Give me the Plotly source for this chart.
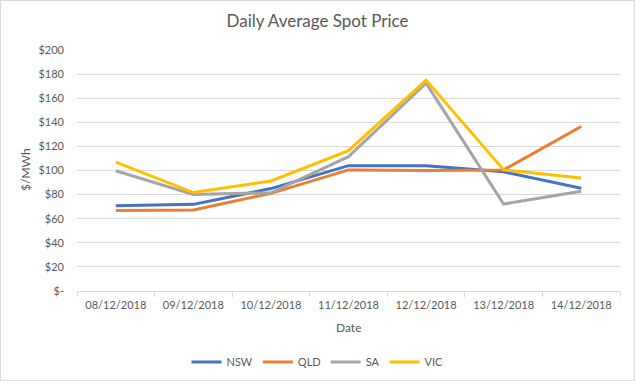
import plotly.graph_objects as go

dates = ["08/12/2018", "09/12/2018", "10/12/2018", "11/12/2018",
         "12/12/2018", "13/12/2018", "14/12/2018"]
nsw = [70.8, 71.9, 85.0, 104.0, 104.0, 98.9, 85.3]
qld = [66.8, 67.3, 81.0, 100.5, 100.0, 100.5, 136.5]
sa = [99.8, 80.1, 81.5, 111.5, 172.5, 72.2, 82.8]
vic = [107.0, 81.7, 91.3, 116.5, 175.0, 100.5, 93.8]

series_names = ["NSW", "QLD", "SA", "VIC"]
series_values = [nsw, qld, sa, vic]
series_colors = ["#4472C4", "#ED7D31", "#A5A5A5", "#FFC000"]

y_tickvals = [0, 20, 40, 60, 80, 100, 120, 140, 160, 180, 200]
y_ticktext = ["$-", "$20", "$40", "$60", "$80", "$100", "$120", "$140",
              "$160", "$180", "$200"]

W, H = 635, 381
ml, mr, mt, mb = 77, 15, 50, 90
FONT = "Lato"
GREY = "#595959"

fig = go.Figure()
for name, vals, col in zip(series_names, series_values, series_colors):
    fig.add_trace(go.Scatter(x=dates, y=vals, name=name, mode="lines",
                             line=dict(color=col, width=3)))

pw = W - ml - mr
ph = H - mt - mb

fig.update_layout(
    width=W, height=H,
    margin=dict(l=ml, r=mr, t=mt, b=mb, autoexpand=False),
    paper_bgcolor="white", plot_bgcolor="white",
    font=dict(family=FONT, color=GREY, size=11),
    title=dict(text="Daily Average Spot Price", x=0.5, xanchor="center",
               xref="container", yref="container",
               y=1 - 21 / H, yanchor="middle",
               font=dict(family=FONT, size=17, color=GREY)),
    showlegend=True,
    legend=dict(orientation="h", xref="container", yref="container",
                x=0.5, xanchor="center",
                y=1 - 362 / H, yanchor="middle",
                font=dict(family=FONT, size=11, color=GREY),
                itemwidth=30),
    xaxis=dict(type="category", range=[-0.5, len(dates) - 0.5],
               showgrid=False, showline=True,
               linecolor="#D9D9D9", linewidth=1, automargin=False,
               ticks="outside", tickson="boundaries", ticklen=5,
               tickcolor="#D9D9D9", ticklabelstandoff=4,
               tickfont=dict(size=11, color=GREY),
               fixedrange=True),
    yaxis=dict(range=[0, 200], tickvals=y_tickvals, ticktext=y_ticktext,
               showgrid=True, gridcolor="#D9D9D9", gridwidth=1,
               zeroline=False, showline=False, ticks="", automargin=False,
               ticklabelstandoff=12,
               tickfont=dict(size=11, color=GREY)),
    annotations=[
        dict(text="Date", xref="paper", yref="paper",
             x=(348 - ml) / pw, y=-(327 - (mt + ph)) / ph,
             xanchor="center", yanchor="middle", showarrow=False,
             font=dict(family=FONT, size=12, color=GREY)),
        dict(text="$/MWh", xref="paper", yref="paper",
             x=-(ml - 25) / pw, y=(mt + ph - 170) / ph, textangle=-90,
             xanchor="center", yanchor="middle", showarrow=False,
             font=dict(family=FONT, size=12, color=GREY)),
    ],
    shapes=[dict(type="rect", xref="paper", yref="paper",
                 x0=-(ml - 0.5) / pw, x1=1 + (mr - 0.5) / pw,
                 y0=-(mb - 0.5) / ph, y1=1 + (mt - 0.5) / ph,
                 line=dict(color="#D9D9D9", width=1), layer="below")],
)

fig.write_html(
    "out.html",
    config={"displayModeBar": False},
    post_script="document.body.style.margin='0';document.body.style.padding='0';"
                "document.body.style.overflow='hidden';",
)
